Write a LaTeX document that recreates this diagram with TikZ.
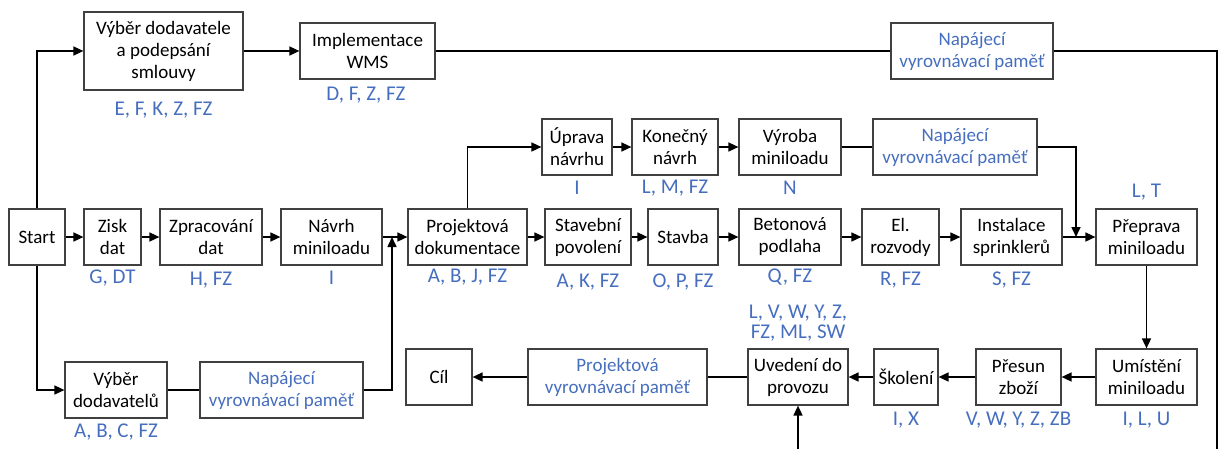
\documentclass[tikz,border=0pt]{standalone}
\usepackage{fontspec}
\setmainfont{Carlito}
\usetikzlibrary{arrows.meta}
\definecolor{lblue}{RGB}{70,110,190}
\definecolor{bgray}{RGB}{64,64,64}
\tikzset{
  box/.style={draw=bgray, line width=1.2pt, inner sep=0pt, align=center, font=\fontsize{19}{22}\selectfont, text=black},
  buf/.style={box, text=lblue},
  lbl/.style={inner sep=0pt, align=center, text=lblue, font=\fontsize{21}{20}\selectfont},
  conn/.style={draw=black, line width=1.6pt},
  arr/.style={conn, -{Triangle[length=10pt,width=9pt]}}
}
\begin{document}
\begin{tikzpicture}[x=1pt,y=-1pt]
\useasboundingbox (0,0) rectangle (1224,448);
% top row
\node[box, minimum width=159pt, minimum height=78pt] (vyb1) at (163.5,51) {Výběr dodavatele\\a podepsání\\smlouvy};
\node[box, minimum width=135pt, minimum height=56pt] (impl) at (367.5,51) {Implementace\\WMS};
\node[buf, minimum width=162pt, minimum height=56pt] (buf1) at (972,51) {Napájecí\\vyrovnávací paměť};
% upper branch
\node[box, minimum width=70pt, minimum height=56pt] (uprava) at (577,147) {Úprava\\návrhu};
\node[box, minimum width=86pt, minimum height=56pt] (konecny) at (675,147) {Konečný\\návrh};
\node[box, minimum width=102pt, minimum height=56pt] (vyroba) at (790,147) {Výroba\\miniloadu};
\node[buf, minimum width=164pt, minimum height=56pt] (buf2) at (955,147) {Napájecí\\vyrovnávací paměť};
% main row
\node[box, minimum width=56pt, minimum height=56pt] (start) at (37,237) {Start};
\node[box, minimum width=57pt, minimum height=56pt] (zisk) at (112.5,237) {Zisk\\dat};
\node[box, minimum width=102pt, minimum height=56pt] (zprac) at (211,237) {Zpracování\\dat};
\node[box, minimum width=101pt, minimum height=56pt] (navrh) at (331.5,237) {Návrh\\miniloadu};
\node[box, minimum width=119pt, minimum height=56pt] (projdok) at (467.5,237) {Projektová\\dokumentace};
\node[box, minimum width=86pt, minimum height=56pt] (stavpov) at (588,237) {Stavební\\povolení};
\node[box, minimum width=70pt, minimum height=56pt] (stavba) at (683,237) {Stavba};
\node[box, minimum width=102pt, minimum height=56pt] (beton) at (790,237) {Betonová\\podlaha};
\node[box, minimum width=77pt, minimum height=56pt] (el) at (900.5,237) {El.\\rozvody};
\node[box, minimum width=101pt, minimum height=56pt] (instal) at (1011.5,237) {Instalace\\sprinklerů};
\node[box, minimum width=101pt, minimum height=56pt] (preprava) at (1146.5,237) {Přeprava\\miniloadu};
% lower left branch
\node[box, minimum width=102pt, minimum height=56pt] (vyb2) at (116,390) {Výběr\\dodavatelů};
\node[buf, minimum width=163pt, minimum height=56pt] (buf3) at (281.5,390) {Napájecí\\vyrovnávací paměť};
% bottom row
\node[box, minimum width=66pt, minimum height=56pt] (cil) at (439,377) {Cíl};
\node[buf, minimum width=179pt, minimum height=56pt] (buf4) at (617.5,377) {Projektová\\vyrovnávací paměť};
\node[box, minimum width=100pt, minimum height=56pt] (uvedeni) at (798,377) {Uvedení do\\provozu};
\node[box, minimum width=64pt, minimum height=56pt] (skoleni) at (906,377) {Školení};
\node[box, minimum width=85pt, minimum height=56pt] (presun) at (1018.5,377) {Přesun\\zboží};
\node[box, minimum width=101pt, minimum height=56pt] (umisteni) at (1146.5,377) {Umístění\\miniloadu};
% labels
\node[lbl] (l1) at (163.5,110) {E, F, K, Z, FZ};
\node[lbl] (l2) at (366,95) {D, F, Z, FZ};
\node[lbl] (l3) at (577,188) {I};
\node[lbl] (l4) at (675,188) {L, M, FZ};
\node[lbl] (l5) at (790,188) {N};
\node[lbl] (l6) at (112.5,278) {G, DT};
\node[lbl] (l7) at (211,280) {H, FZ};
\node[lbl] (l8) at (331.5,278) {I};
\node[lbl] (l9) at (467.5,277) {A, B, J, FZ};
\node[lbl] (l10) at (588,282) {A, K, FZ};
\node[lbl] (l11) at (683,282) {O, P, FZ};
\node[lbl] (l12) at (790,277) {Q, FZ};
\node[lbl] (l13) at (900.5,280) {R, FZ};
\node[lbl] (l14) at (1011.5,280) {S, FZ};
\node[lbl] (l15) at (1146.5,192) {L, T};
\node[lbl] (l16) at (116,432) {A, B, C, FZ};
\node[lbl] (l17) at (798,323) {L, V, W, Y, Z,\\FZ, ML, SW};
\node[lbl] (l18) at (906,420) {I, X};
\node[lbl] (l19) at (1018.5,420) {V, W, Y, Z, ZB};
\node[lbl] (l20) at (1146.5,420) {I, L, U};
% helper coordinates
\coordinate (j1) at (392,237);
\coordinate (j2) at (1076,237);
\coordinate (rb) at (1217,462);
% connectors
\draw[arr] (start.north) |- (vyb1.west);
\draw[arr] (start.south) |- (vyb2.west);
\draw[arr] (vyb1.east) -- (impl.west);
\draw[conn] (impl.east) -- (buf1.west);
\draw[arr] (buf1.east) -| (rb) -| (uvedeni.south);
\draw[arr] (start.east) -- (zisk.west);
\draw[arr] (zisk.east) -- (zprac.west);
\draw[arr] (zprac.east) -- (navrh.west);
\draw[arr] (navrh.east) -- (projdok.west);
\draw[conn] (vyb2.east) -- (buf3.west);
\draw[arr] (buf3.east) -| (j1);
\draw[arr] (projdok.north) |- (uprava.west);
\draw[arr] (uprava.east) -- (konecny.west);
\draw[arr] (konecny.east) -- (vyroba.west);
\draw[conn] (vyroba.east) -- (buf2.west);
\draw[arr] (buf2.east) -| (j2);
\draw[arr] (projdok.east) -- (stavpov.west);
\draw[arr] (stavpov.east) -- (stavba.west);
\draw[arr] (stavba.east) -- (beton.west);
\draw[arr] (beton.east) -- (el.west);
\draw[arr] (el.east) -- (instal.west);
\draw[arr] (instal.east) -- (preprava.west);
\draw[arr] (preprava.south) -- (umisteni.north);
\draw[arr] (umisteni.west) -- (presun.east);
\draw[arr] (presun.west) -- (skoleni.east);
\draw[arr] (skoleni.west) -- (uvedeni.east);
\draw[conn] (uvedeni.west) -- (buf4.east);
\draw[arr] (buf4.west) -- (cil.east);
\end{tikzpicture}
\end{document}
